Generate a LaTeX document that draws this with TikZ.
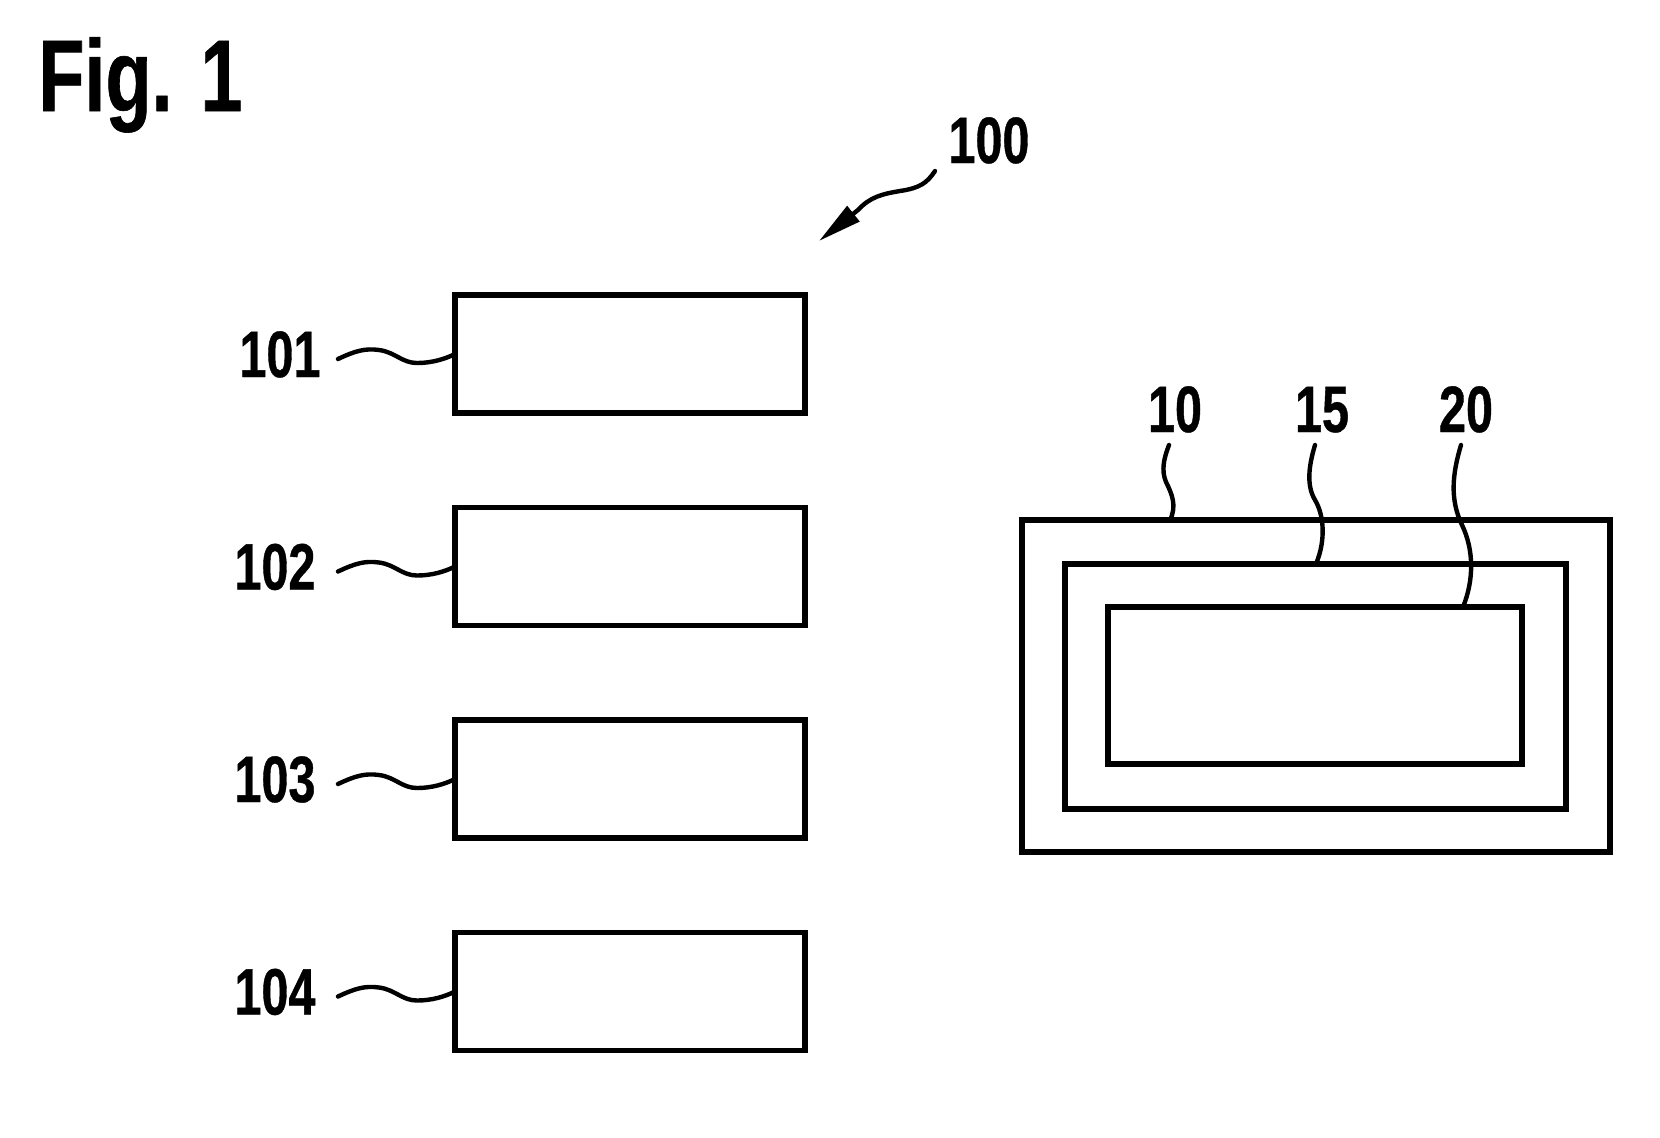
\documentclass[tikz,border=0pt]{standalone}
\usepackage{fontspec}
\usepackage{graphicx}
\newfontfamily\lblfont{Liberation Sans}[FakeStretch=0.74,FakeBold=0.6]
\usetikzlibrary{arrows.meta}
\tikzset{
  box/.style={draw, line width=2.6pt, minimum width=175pt, minimum height=59pt, inner sep=0pt, outer sep=0pt},
  frame/.style={draw, line width=2.6pt, inner sep=0pt, outer sep=0pt},
  num/.style={font=\lblfont\bfseries\fontsize{32.8pt}{34pt}\selectfont, inner sep=0pt, anchor=base},
  lead/.style={line width=2.2pt, line cap=round},
}
\begin{document}
\begin{tikzpicture}[x=0.5pt, y=-0.5pt]
\useasboundingbox (0,0) rectangle (1660,1137);
% title
\node[font=\lblfont\bfseries\fontsize{51pt}{52pt}\selectfont, inner sep=0pt, anchor=base west] (fig) at (38,111) {Fig. 1};
% reference 100 with arrow
\node[num] (n100) at (989,163) {100};
\coordinate (a100) at (935,171);
\coordinate (t100) at (819,241);
\draw[lead, -{Triangle[length=22pt,width=9.5pt]}] (a100) .. controls (927,183) and (920,188) .. (900,191)
  .. controls (882,194) and (870,197) .. (858,210) -- (t100);
% boxes 101-104
\foreach \k/\lab in {0/101,1/102,2/103,3/104}{
  \pgfmathsetmacro{\dy}{212.5*\k}
  \node[box] (b\lab) at (630,354+\dy) {};
  \node[num] (l\lab) at ({\k==0 ? 280 : 275},377+\dy) {\lab};
  \coordinate (s\lab) at (338,359+\dy);
  \draw[lead] (s\lab) .. controls (355,351+\dy) and (365,348+\dy) .. (379,350+\dy)
     .. controls (395,352+\dy) and (402,363+\dy) .. (417,363+\dy)
     .. controls (432,363+\dy) and (445,359+\dy) .. (b\lab.west);
}
% nested rectangles
\node[frame, minimum width=294pt, minimum height=166pt] (r10) at (1316,686) {};
\node[frame, minimum width=250.5pt, minimum height=122.5pt] (r15) at (1315.5,686.5) {};
\node[frame, minimum width=207pt, minimum height=78.5pt] (r20) at (1315,685.5) {};
\node[num] (l10) at (1175,432) {10};
\node[num] (l15) at (1322,432) {15};
\node[num] (l20) at (1466,432) {20};
\coordinate (s10) at (1169,445);
\coordinate (s15) at (1315,445);
\coordinate (s20) at (1461,445);
\draw[lead] (s10) .. controls (1164,458) and (1161,470) .. (1166,482)
   .. controls (1172,494) and (1177,506) .. (1170,0 |- r10.north);
\draw[lead] (s15) .. controls (1309,465) and (1306,485) .. (1315,500)
   .. controls (1324,515) and (1326,540) .. (1316,0 |- r15.north);
\draw[lead] (s20) .. controls (1452,475) and (1450,500) .. (1462,525)
   .. controls (1474,550) and (1474,580) .. (1463,0 |- r20.north);
\end{tikzpicture}
\end{document}
